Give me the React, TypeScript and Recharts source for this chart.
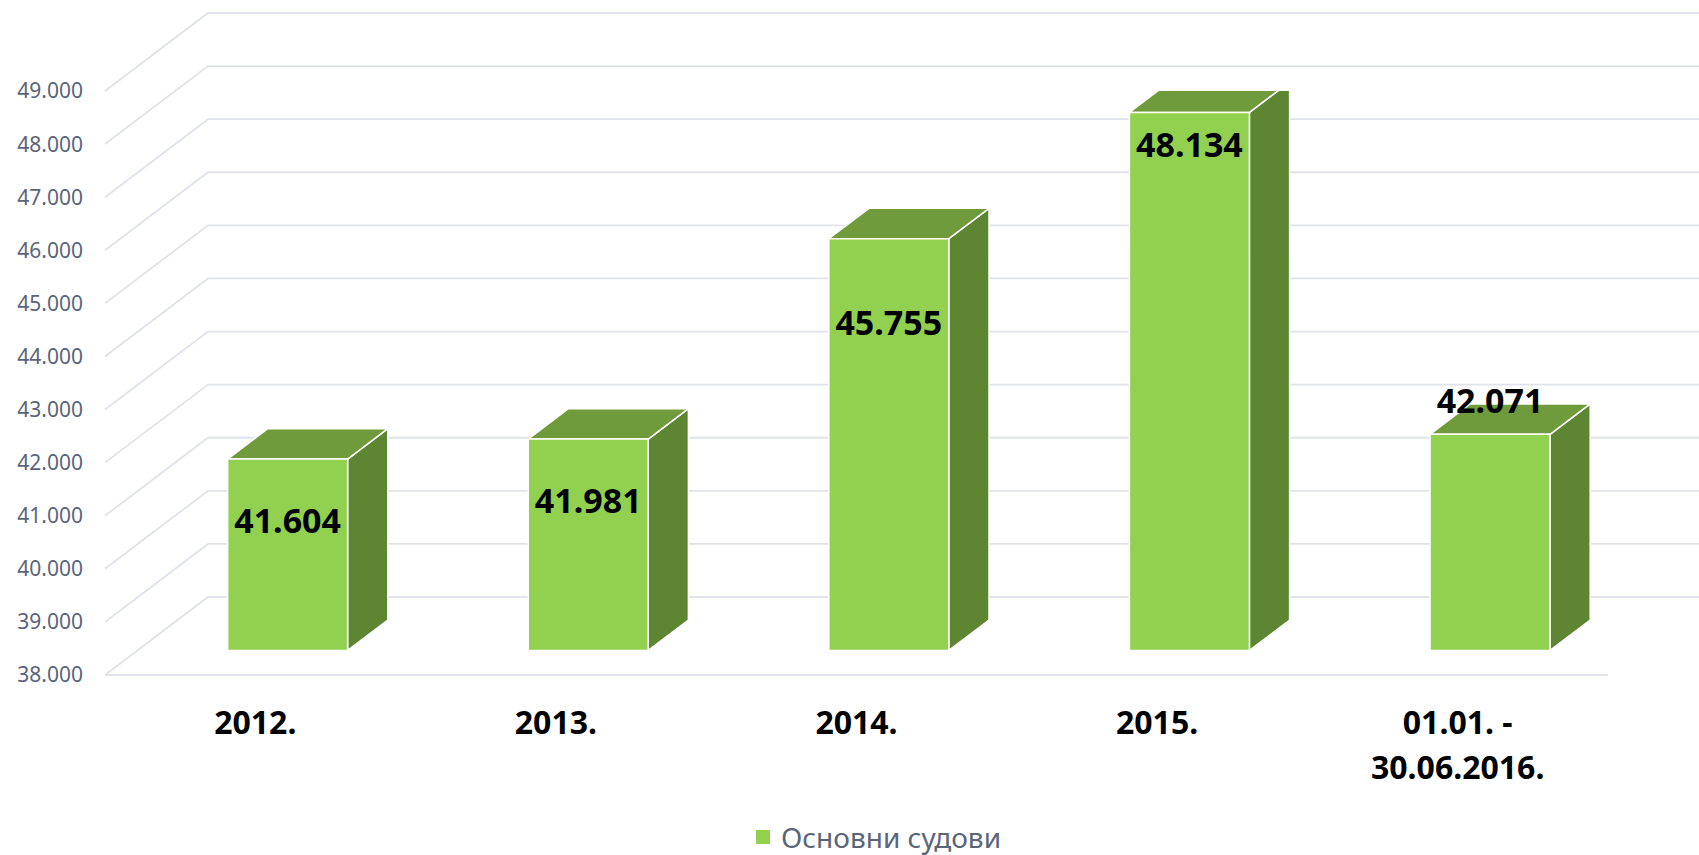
import React from 'react'
import { BarChart, Bar, XAxis, YAxis, CartesianGrid, LabelList, Legend } from 'recharts'

const categories = ['2012.', '2013.', '2014.', '2015.', '01.01. -\n30.06.2016.']
const cases = [41604, 41981, 45755, 48134, 42071]
const yTicks = [38000, 39000, 40000, 41000, 42000, 43000, 44000, 45000, 46000, 47000, 48000, 49000]
const seriesName = 'Основни судови'

const data = categories.map((name, i) => ({ name, cases: cases[i] }))

const W = 1699
const H = 855
const margin = { top: 91, right: 91, bottom: 80, left: 0 }
const X_AXIS_H = 100
const Y_AXIS_W = 105
const FLOOR_Y = H - margin.bottom - X_AXIS_H

// oblique 3D: how far the back wall sits from the front plane
const DEPTH_X = 103
const DEPTH_Y = -78
const BAR_FRONT = 0.315
const BAR_DEPTH = 0.39

// Excel labels were dragged by hand: centre offset below the bar's front top edge
const LABEL_NUDGE = [62, 62, 84, 33, -33]

const FRONT = '#92d050'
const TOP = '#709b3c'
const SIDE = '#5e8532'
const GRID = '#e0e3e9'
const TEXT = '#5b6579'
const FONT = "'Noto Sans', sans-serif"

const fmt = (v: number) => String(v).replace(/\B(?=(\d{3})+(?!\d))/g, '.')

function Box(props: any) {
  const { x, y, width, height } = props
  if (height == null || width == null) return null
  const fx = x + BAR_FRONT * DEPTH_X
  const fy = y + BAR_FRONT * DEPTH_Y
  const dx = BAR_DEPTH * DEPTH_X
  const dy = BAR_DEPTH * DEPTH_Y
  const top = `M${fx},${fy} L${fx + width},${fy} L${fx + width + dx},${fy + dy} L${fx + dx},${fy + dy} Z`
  const side = `M${fx + width},${fy} L${fx + width + dx},${fy + dy} L${fx + width + dx},${fy + height + dy} L${fx + width},${fy + height} Z`
  return (
    <g stroke="#fff" strokeWidth={1.5} strokeLinejoin="round">
      <path d={side} fill={SIDE} />
      <path d={top} fill={TOP} />
      <rect x={fx} y={fy} width={width} height={height} fill={FRONT} />
    </g>
  )
}

function wallLine(props: any) {
  const { x1, y1, x2, index } = props
  const by = y1 + DEPTH_Y
  let d = `M${x1},${y1} L${x1 + DEPTH_X},${by} L${x2 + DEPTH_X},${by}`
  if (Math.abs(y1 - FLOOR_Y) < 1) d += ` M${x1},${y1} L${x2},${y1}`
  return <path key={`wall-${index}`} d={d} fill="none" stroke={GRID} strokeWidth={1.8} />
}

function CategoryTick(props: any) {
  const { x, y, payload } = props
  const lines = String(payload.value).split('\n')
  return (
    <text x={x} y={y + 59} textAnchor="middle" fontFamily={FONT} fontWeight={700} fontSize={32} fill="#000">
      {lines.map((l, i) => (
        <tspan key={i} x={x} dy={i === 0 ? 0 : 45}>
          {l}
        </tspan>
      ))}
    </text>
  )
}

function ValueLabel(props: any) {
  const { x, y, width, value, index } = props
  const cx = x + width / 2 + BAR_FRONT * DEPTH_X
  const cy = y + BAR_FRONT * DEPTH_Y + (LABEL_NUDGE[index] ?? 40)
  return (
    <text x={cx} y={cy + 12} textAnchor="middle" fontFamily={FONT} fontWeight={700} fontSize={34} fill="#000">
      {fmt(value)}
    </text>
  )
}

function LegendBox() {
  return (
    <div style={{ display: 'flex', alignItems: 'center', fontFamily: FONT, fontSize: 28, color: TEXT, whiteSpace: 'nowrap' }}>
      <span style={{ display: 'inline-block', width: 14, height: 14, background: FRONT, marginRight: 11 }} />
      {seriesName}
    </div>
  )
}

export default function App() {
  return (
    <div style={{ position: 'absolute', left: 0, top: 0, width: W, height: H, background: '#fff' }}>
      <BarChart width={W} height={H} data={data} margin={margin} barCategoryGap="30%">
        <CartesianGrid vertical={false} horizontal={wallLine} />
        <XAxis
          dataKey="name"
          interval={0}
          height={X_AXIS_H}
          axisLine={false}
          tickLine={false}
          tickSize={0}
          tickMargin={0}
          tick={<CategoryTick />}
        />
        <YAxis
          width={Y_AXIS_W}
          domain={[38000, 49000]}
          ticks={yTicks}
          allowDataOverflow
          axisLine={false}
          tickLine={false}
          tickSize={0}
          tickMargin={22}
          tickFormatter={fmt}
          tick={{ fill: TEXT, fontSize: 21, fontFamily: FONT }}
        />
        <Legend verticalAlign="middle" align="center" wrapperStyle={{ top: 818, left: 756, width: 400 }} content={() => <LegendBox />} />
        <Bar dataKey="cases" name={seriesName} shape={<Box />} isAnimationActive={false}>
          <LabelList dataKey="cases" content={<ValueLabel />} />
        </Bar>
      </BarChart>
    </div>
  )
}
